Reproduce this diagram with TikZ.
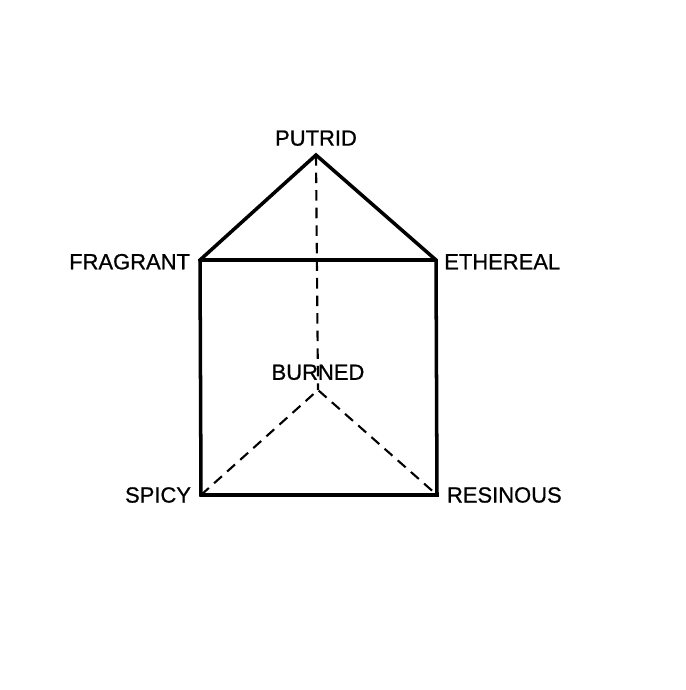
\documentclass[tikz,border=0pt]{standalone}
\usepackage{fontspec}
\setmainfont{Liberation Sans}
\newfontfamily\odourfont{Liberation Sans}[FakeBold=0.8]
\usetikzlibrary{positioning}

\begin{document}
\begin{tikzpicture}[
    x=0.02cm,
    y=-0.02cm,
    edge/.style={line width=2pt, line join=miter},
    hidden/.style={line width=1.2pt, dash pattern=on 6pt off 4pt},
    odour/.style={font=\odourfont\fontsize{12.5}{14}\selectfont, inner sep=0pt},
]
    \useasboundingbox (0,0) rectangle (686,690);

    % corners of the prism
    \coordinate (p) at (316,155);
    \coordinate (f) at (200,260);
    \coordinate (e) at (436,260);
    \coordinate (b) at (318,390);
    \coordinate (s) at (201,495);
    \coordinate (r) at (437,495);

    \node[odour, above=5pt of p]                  (putrid)   {PUTRID};
    \node[odour, left=5.5pt of f, yshift=-1pt]    (fragrant) {FRAGRANT};
    \node[odour, right=4.5pt of e, yshift=-1pt]   (ethereal) {ETHEREAL};
    \node[odour, above=5.5pt of b]                (burned)   {BURNED};
    \node[odour, left=5.5pt of s]                 (spicy)    {SPICY};
    \node[odour, right=5.5pt of r]                (resinous) {RESINOUS};

    \draw[edge] (s) -- (f) -- (p) -- (e) -- (r) -- cycle;
    \draw[edge] (f) -- (e);

    \draw[hidden] (p) -- (b);
    \draw[hidden] (s) -- (b) -- (r);
\end{tikzpicture}
\end{document}
